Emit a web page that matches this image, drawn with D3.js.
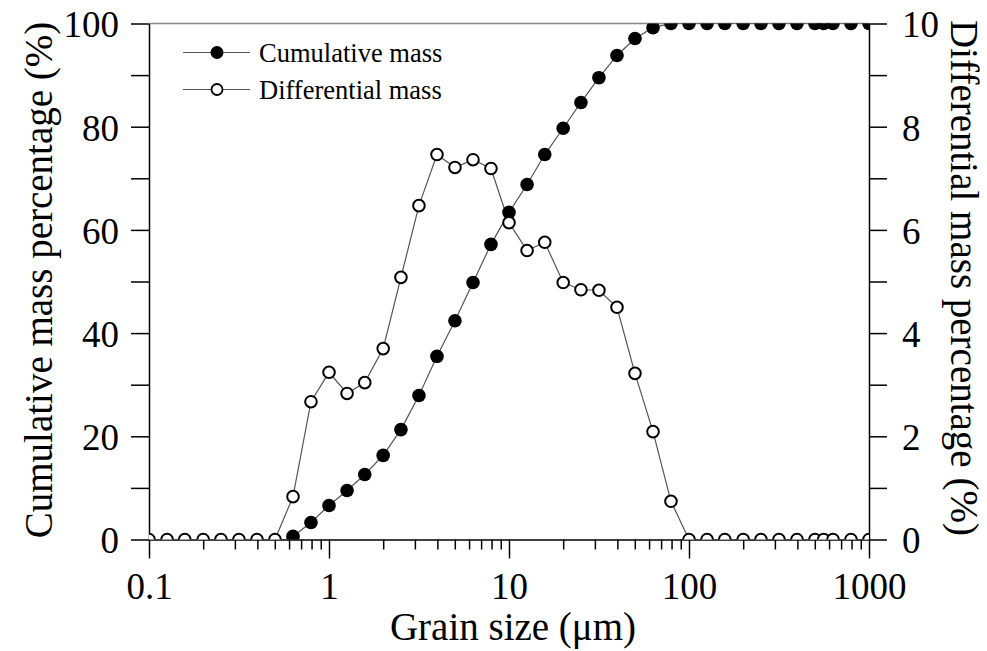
<!DOCTYPE html>
<html>
<head>
<meta charset="utf-8">
<script src="https://cdn.jsdelivr.net/npm/d3@7"></script>
<style>
    body { margin: 0; background: #fff; }
    svg text { font-family: "Liberation Serif", "Times New Roman", serif; fill: #000; }
</style>
</head>
<body>
<svg id="chart"></svg>
<script>
// grain size classes (um)
var sizes = [0.1, 0.126, 0.158, 0.2, 0.251, 0.316, 0.398, 0.501, 0.631, 0.794,
    1, 1.26, 1.58, 2, 2.51, 3.16, 3.98, 5.01, 6.31, 7.94,
    10, 12.6, 15.8, 20, 25.1, 31.6, 39.8, 50.1, 63.1, 79.4,
    100, 126, 158, 200, 251, 316, 398, 501, 560, 631, 794, 1000];

// cumulative mass (%), left axis; null where nothing is plotted
var cumulative = [null, null, null, null, null, null, null, null, 0.6, 3.3,
    6.6, 9.5, 12.6, 16.3, 21.3, 27.9, 35.5, 42.4, 49.8, 57.2,
    63.4, 68.8, 74.6, 79.7, 84.7, 89.5, 93.8, 97.1, 99.2, 100,
    100, 100, 100, 100, 100, 100, 100, 100, 100, 100, 100, 100];

// differential mass (%), right axis
var differential = [0, 0, 0, 0, 0, 0, 0, 0, 0.83, 2.67,
    3.24, 2.83, 3.04, 3.70, 5.08, 6.47, 7.46, 7.21, 7.36, 7.19,
    6.14, 5.60, 5.76, 4.98, 4.84, 4.83, 4.50, 3.22, 2.09, 0.74,
    0, 0, 0, 0, 0, 0, 0, 0, 0, 0, 0, 0];

var xMajor = [0.1, 1, 10, 100, 1000];
var leftTicks = [0, 10, 20, 30, 40, 50, 60, 70, 80, 90, 100];
var rightTicks = [0, 1, 2, 3, 4, 5, 6, 7, 8, 9, 10];

var legendLabels = ['Cumulative mass', 'Differential mass'];

var canvasWidth = 987;
var canvasHeight = 651;
var plotLeft = 149, plotRight = 869, plotTop = 23.5, plotBottom = 539.5;

var svg = d3.select('#chart')
    .attr('width', canvasWidth)
    .attr('height', canvasHeight);

var xScale = d3.scaleLog().domain([0.1, 1000]).range([plotLeft, plotRight]);
var yLeft = d3.scaleLinear().domain([0, 100]).range([plotBottom, plotTop]);
var yRight = d3.scaleLinear().domain([0, 10]).range([plotBottom, plotTop]);

// minor ticks 2..9 for each decade
var xMinor = [];
xMajor.slice(0, -1).forEach(function (d) {
    for (var k = 2; k <= 9; k++) xMinor.push(d * k);
});

svg.append('defs').append('clipPath')
    .attr('id', 'plotClip')
    .append('rect')
    .attr('x', plotLeft).attr('y', plotTop)
    .attr('width', plotRight - plotLeft).attr('height', plotBottom - plotTop);

// top frame line
svg.append('line')
    .attr('x1', plotLeft).attr('x2', plotRight)
    .attr('y1', plotTop).attr('y2', plotTop)
    .attr('stroke', '#888').attr('stroke-width', 1.5);

// x axis: minor then major
svg.append('g')
    .attr('transform', 'translate(0,' + plotBottom + ')')
    .call(d3.axisBottom(xScale).tickValues(xMinor).tickSize(10).tickFormat(''))
    .call(function (g) { g.select('.domain').remove(); })
    .selectAll('line').attr('stroke-width', 1.5);

var xAxis = svg.append('g')
    .attr('transform', 'translate(0,' + plotBottom + ')')
    .call(d3.axisBottom(xScale).tickValues(xMajor).tickSize(19).tickSizeOuter(0)
        .tickPadding(24)
        .tickFormat(function (d) { return d3.format('~g')(d); }));
xAxis.selectAll('line').attr('stroke-width', 1.5);
xAxis.select('.domain').attr('stroke-width', 1.5);
xAxis.selectAll('text').attr('font-size', 37).attr('dy', '0.45em');

// left axis
var yAxisL = svg.append('g')
    .attr('transform', 'translate(' + plotLeft + ',0)')
    .call(d3.axisLeft(yLeft).tickValues(leftTicks).tickSize(18).tickSizeOuter(0)
        .tickPadding(12)
        .tickFormat(function (d) { return d % 20 === 0 ? d : ''; }));
yAxisL.selectAll('line').attr('stroke-width', 1.5);
yAxisL.select('.domain').attr('stroke-width', 1.5);
yAxisL.selectAll('text').attr('font-size', 37).attr('dy', '0.36em');

// right axis
var yAxisR = svg.append('g')
    .attr('transform', 'translate(' + plotRight + ',0)')
    .call(d3.axisRight(yRight).tickValues(rightTicks).tickSize(18).tickSizeOuter(0)
        .tickPadding(15)
        .tickFormat(function (d) { return d % 2 === 0 ? d : ''; }));
yAxisR.selectAll('line').attr('stroke-width', 1.5);
yAxisR.select('.domain').attr('stroke-width', 1.5);
yAxisR.selectAll('text').attr('font-size', 37).attr('dy', '0.36em');

svg.selectAll('.domain, .tick line').attr('stroke', '#000');

// axis titles
svg.append('text')
    .attr('x', (plotLeft + plotRight) / 2 + 4).attr('y', 640)
    .attr('text-anchor', 'middle')
    .attr('font-size', 39)
    .text('Grain size (\u03bcm)');

svg.append('text')
    .attr('transform', 'translate(52,280) rotate(-90)')
    .attr('text-anchor', 'middle')
    .attr('font-size', 39)
    .text('Cumulative mass percentage (%)');

svg.append('text')
    .attr('transform', 'translate(951,278) rotate(90)')
    .attr('text-anchor', 'middle')
    .attr('font-size', 39)
    .text('Differential mass percentage (%)');

// series
var plot = svg.append('g').attr('clip-path', 'url(#plotClip)');

var cumData = sizes.map(function (s, i) { return {x: s, y: cumulative[i]}; })
    .filter(function (d) { return d.y !== null; });
var difData = sizes.map(function (s, i) { return {x: s, y: differential[i]}; });

var lineL = d3.line().x(function (d) { return xScale(d.x); }).y(function (d) { return yLeft(d.y); });
var lineR = d3.line().x(function (d) { return xScale(d.x); }).y(function (d) { return yRight(d.y); });

plot.append('path').datum(difData)
    .attr('d', lineR).attr('fill', 'none')
    .attr('stroke', '#555').attr('stroke-width', 1.2);
plot.append('path').datum(cumData)
    .attr('d', lineL).attr('fill', 'none')
    .attr('stroke', '#555').attr('stroke-width', 1.2);

plot.selectAll('circle.cum')
    .data(cumData)
    .enter()
    .append('circle')
    .attr('class', 'cum')
    .attr('cx', function (d) { return xScale(d.x); })
    .attr('cy', function (d) { return yLeft(d.y); })
    .attr('r', 6.8)
    .attr('fill', '#000');

plot.selectAll('circle.dif')
    .data(difData)
    .enter()
    .append('circle')
    .attr('class', 'dif')
    .attr('cx', function (d) { return xScale(d.x); })
    .attr('cy', function (d) { return yRight(d.y); })
    .attr('r', 5.8)
    .attr('fill', '#fff')
    .attr('stroke', '#000')
    .attr('stroke-width', 2);

// legend
var legend = svg.append('g');
legendLabels.forEach(function (label, i) {
    var yPos = 52.5 + i * 37;
    legend.append('line')
        .attr('x1', 183).attr('x2', 250)
        .attr('y1', yPos).attr('y2', yPos)
        .attr('stroke', '#555').attr('stroke-width', 1.2);
    legend.append('circle')
        .attr('cx', 217).attr('cy', yPos)
        .attr('r', i === 0 ? 6.5 : 5.5)
        .attr('fill', i === 0 ? '#000' : '#fff')
        .attr('stroke', '#000')
        .attr('stroke-width', i === 0 ? 0 : 1.8);
    legend.append('text')
        .attr('x', 259).attr('y', yPos + 9)
        .attr('font-size', 26.5)
        .text(label);
});
</script>
</body>
</html>
